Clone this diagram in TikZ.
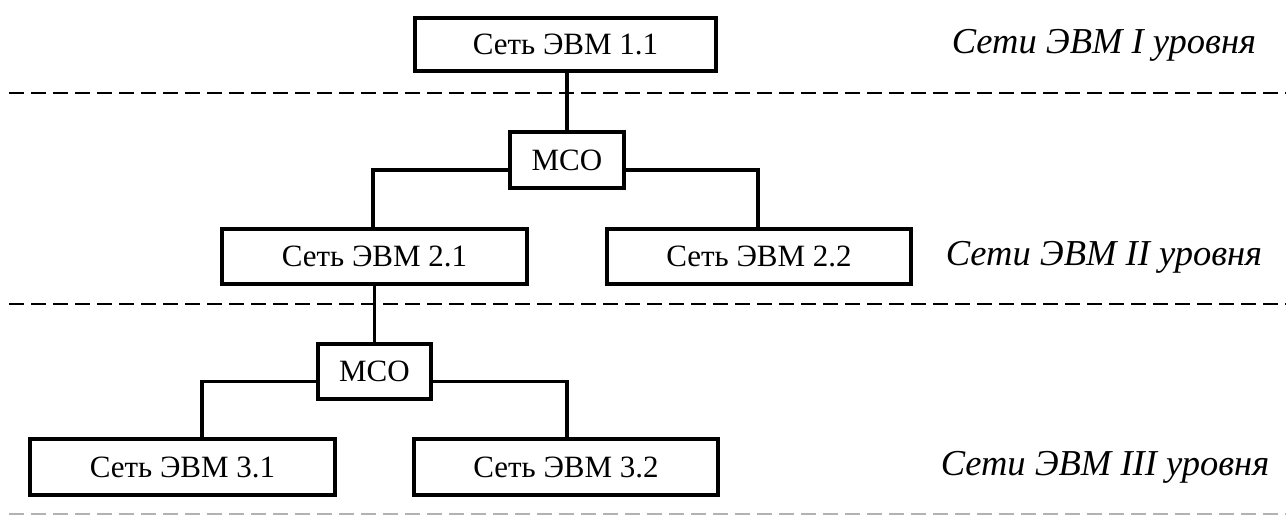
\documentclass[tikz,border=0pt]{standalone}
\usepackage{fontspec}
\setmainfont{Liberation Serif}
\begin{document}
\begin{tikzpicture}[x=1pt,y=-1pt,
  netbox/.style={draw,line width=4pt,rectangle,inner sep=0pt,
    minimum width=305pt,minimum height=55pt,font=\fontsize{31}{31}\selectfont},
  hubbox/.style={netbox,minimum width=114pt},
  link/.style={line width=3.5pt},
  levelsep/.style={line width=2pt,dash pattern=on 15pt off 7pt},
  levelname/.style={anchor=base,font=\fontsize{36.5}{36.5}\selectfont\itshape}]
\useasboundingbox (0,0) rectangle (1286,515);

% level separators
\draw[levelsep] (9,93) -- (1290,93);
\draw[levelsep] (9,304) -- (1290,304);
\draw[levelsep,black!30] (9,514) -- (1290,514);

% networks and exchange nodes
\node[netbox,minimum width=301pt,minimum height=53pt] (n11) at (565.5,44.5) {Сеть ЭВМ 1.1};
\node[hubbox,minimum height=56pt] (m1) at (567,160) {МСО};
\node[netbox] (n21) at (374.5,256.5) {Сеть ЭВМ 2.1};
\node[netbox,minimum width=304pt] (n22) at (759,256.5) {Сеть ЭВМ 2.2};
\node[hubbox,minimum width=113pt] (m2) at (374.5,371.5) {МСО};
\node[netbox,minimum height=56pt] (n31) at (182.5,467) {Сеть ЭВМ 3.1};
\node[netbox,minimum width=304pt,minimum height=56pt] (n32) at (566,467) {Сеть ЭВМ 3.2};

% level captions
\node[levelname] (l1) at (1104,53) {Сети ЭВМ I уровня};
\node[levelname] (l2) at (1104,265) {Сети ЭВМ II уровня};
\node[levelname] (l3) at (1105,475) {Сети ЭВМ III уровня};

% connections
\draw[link] (m1.north) -- (m1.north |- n11.south);
\draw[link] ([yshift=-10pt]m1.west) -| ([xshift=-1.5pt]n21.north);
\draw[link] ([yshift=-10pt]m1.east) -| ([xshift=-1pt]n22.north);
\draw[link] (n21.south) -- (m2.north);
\draw[link] ([yshift=-10pt]m2.west) -| ([xshift=19.5pt]n31.north);
\draw[link] ([yshift=-10pt]m2.east) -| ([xshift=1pt]n32.north);
\end{tikzpicture}
\end{document}
